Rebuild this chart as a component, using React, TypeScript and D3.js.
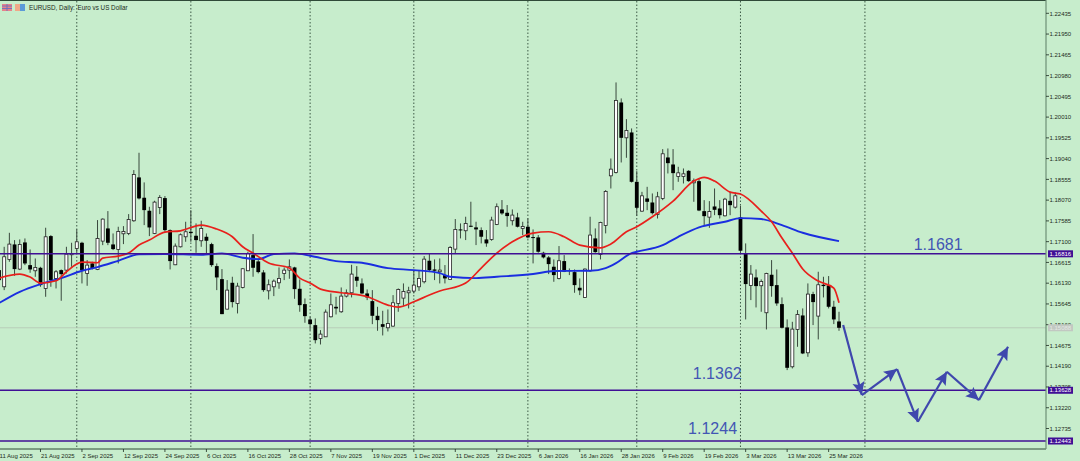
import * as d3 from "d3";

const WIDTH = 1080;
const HEIGHT = 461;
const RIGHT = 1046;
const BOTTOM = 449;

// EURUSD daily bars, one value per bar
const opens = [
  1.16435, 1.16046, 1.16684, 1.17035, 1.16459, 1.17082, 1.16552, 1.1642, 1.1649, 1.16007,
  1.1723, 1.1624, 1.16435, 1.16435, 1.16794, 1.16942, 1.17074, 1.16357, 1.16591, 1.16451,
  1.17113, 1.17409, 1.17035, 1.16918, 1.17284, 1.17292, 1.17588, 1.18601, 1.18126, 1.17822,
  1.17292, 1.179, 1.18118, 1.1737, 1.1656, 1.1698, 1.17214, 1.17331, 1.17238, 1.17121,
  1.17214, 1.17043, 1.16529, 1.16225, 1.15524, 1.16139, 1.15656, 1.1603, 1.1642, 1.16786,
  1.16638, 1.16381, 1.15952, 1.16046, 1.16139, 1.16358, 1.16435, 1.16498, 1.15999, 1.15641,
  1.15282, 1.1515, 1.14838, 1.14877, 1.15345, 1.15578, 1.15462, 1.15828, 1.15906, 1.1628,
  1.16124, 1.1589, 1.15711, 1.15368, 1.15173, 1.15088, 1.15127, 1.15656, 1.15781, 1.15906,
  1.15945, 1.16046, 1.16163, 1.16654, 1.16451, 1.16397, 1.16319, 1.16218, 1.16926, 1.17386,
  1.17355, 1.17472, 1.17433, 1.1737, 1.17152, 1.17152, 1.17503, 1.17853, 1.17775, 1.17589,
  1.17667, 1.17409, 1.17448, 1.17207, 1.17199, 1.16841, 1.16732, 1.16514, 1.16241, 1.16646,
  1.16436, 1.16389, 1.16023, 1.15797, 1.1642, 1.17176, 1.16802, 1.1748, 1.18638, 1.18716,
  1.20352, 1.19526, 1.19651, 1.18498, 1.17813, 1.18109, 1.18015, 1.17735, 1.18109, 1.19067,
  1.18903, 1.18623, 1.18623, 1.18755, 1.18475, 1.18514, 1.17813, 1.17673, 1.17922, 1.17875,
  1.17704, 1.18054, 1.17906, 1.17667, 1.16825, 1.16078, 1.16264, 1.1607, 1.15439, 1.16327,
  1.16085, 1.15641, 1.15096, 1.14177, 1.15049, 1.15376, 1.14504, 1.15875, 1.15361, 1.16093,
  1.16078, 1.15579, 1.15236,
];
const closes = [
  1.16201, 1.16747, 1.17043, 1.16459, 1.17035, 1.16591, 1.16451, 1.16497, 1.16085, 1.17214,
  1.16201, 1.16396, 1.16342, 1.16809, 1.16825, 1.17097, 1.16435, 1.16552, 1.16474, 1.17175,
  1.17627, 1.17074, 1.16926, 1.17339, 1.17339, 1.17619, 1.18671, 1.1811, 1.17837, 1.17432,
  1.18024, 1.18133, 1.1737, 1.16646, 1.16996, 1.17261, 1.17331, 1.173, 1.17136, 1.17409,
  1.17121, 1.16552, 1.16264, 1.15407, 1.15968, 1.15688, 1.16061, 1.16467, 1.16825, 1.1649,
  1.16389, 1.15968, 1.16093, 1.16178, 1.16241, 1.16435, 1.16513, 1.15991, 1.15617, 1.1536,
  1.15173, 1.14799, 1.1494, 1.15454, 1.15625, 1.1554, 1.15828, 1.15906, 1.16342, 1.16186,
  1.1589, 1.15797, 1.15368, 1.15267, 1.1511, 1.15189, 1.15672, 1.15984, 1.15937, 1.15952,
  1.16085, 1.16241, 1.16692, 1.16435, 1.1642, 1.16436, 1.16241, 1.16965, 1.17386, 1.17363,
  1.17526, 1.17448, 1.17386, 1.17215, 1.17059, 1.17604, 1.17916, 1.1776, 1.17698, 1.17721,
  1.17448, 1.17456, 1.17199, 1.17191, 1.16864, 1.16732, 1.16576, 1.16319, 1.16654, 1.16397,
  1.1642, 1.16085, 1.15961, 1.16459, 1.17254, 1.16856, 1.1755, 1.18274, 1.18794, 1.20399,
  1.19526, 1.19698, 1.18498, 1.17891, 1.18171, 1.18031, 1.17766, 1.18148, 1.19153, 1.18934,
  1.18701, 1.18708, 1.18685, 1.18514, 1.18522, 1.17828, 1.17696, 1.17805, 1.17844, 1.17719,
  1.18093, 1.17953, 1.18171, 1.16888, 1.16109, 1.16342, 1.16062, 1.16171, 1.16358, 1.16062,
  1.15657, 1.15088, 1.14153, 1.15057, 1.154, 1.14488, 1.15875, 1.15688, 1.16093, 1.16062,
  1.15579, 1.15283, 1.15088,
];
const highs = [
  1.16513, 1.1698, 1.17307, 1.17136, 1.17152, 1.17175, 1.16918, 1.16707, 1.16513, 1.17425,
  1.17253, 1.16435, 1.16451, 1.1698, 1.17074, 1.17386, 1.17097, 1.16669, 1.1663, 1.17604,
  1.17643, 1.17814, 1.17292, 1.17448, 1.17463, 1.17744, 1.18772, 1.19177, 1.18484, 1.17915,
  1.18056, 1.18188, 1.18165, 1.17386, 1.17058, 1.17292, 1.17565, 1.17837, 1.17526, 1.17588,
  1.17292, 1.17074, 1.16591, 1.16459, 1.16202, 1.1628, 1.16139, 1.16474, 1.16864, 1.17277,
  1.16708, 1.16435, 1.16217, 1.16217, 1.16498, 1.16498, 1.16685, 1.16513, 1.16217, 1.15773,
  1.15345, 1.15306, 1.15033, 1.15516, 1.1589, 1.15812, 1.1603, 1.15984, 1.1656, 1.16529,
  1.16241, 1.15984, 1.15968, 1.15578, 1.15485, 1.15516, 1.15851, 1.16007, 1.16124, 1.16046,
  1.16435, 1.16435, 1.16763, 1.16825, 1.16685, 1.16708, 1.16553, 1.16997, 1.17628, 1.17526,
  1.17682, 1.18033, 1.17565, 1.17433, 1.1737, 1.17682, 1.17994, 1.18072, 1.17955, 1.17853,
  1.17775, 1.17565, 1.17643, 1.17386, 1.17254, 1.16864, 1.16763, 1.16685, 1.16997, 1.16786,
  1.16475, 1.16451, 1.16241, 1.16475, 1.17682, 1.17409, 1.17565, 1.18305, 1.19043, 1.2082,
  1.20446, 1.19963, 1.19745, 1.18747, 1.18264, 1.18381, 1.18226, 1.18264, 1.19262, 1.19277,
  1.19262, 1.18849, 1.1881, 1.1877, 1.18576, 1.18576, 1.1807, 1.18047, 1.18342, 1.1807,
  1.18124, 1.18264, 1.18249, 1.17937, 1.17059, 1.16553, 1.16451, 1.16218, 1.16374, 1.16669,
  1.16451, 1.15797, 1.15283, 1.15228, 1.15501, 1.1554, 1.16124, 1.15929, 1.16397, 1.1628,
  1.16296, 1.15719, 1.15462,
];
const lows = [
  1.16085, 1.15968, 1.1663, 1.16303, 1.16435, 1.16552, 1.16373, 1.16279, 1.16046, 1.15812,
  1.16046, 1.16007, 1.15719, 1.16357, 1.16513, 1.16809, 1.16124, 1.16069, 1.16451, 1.16435,
  1.17019, 1.17019, 1.16903, 1.16591, 1.17043, 1.17253, 1.17565, 1.18087, 1.17487, 1.1723,
  1.17277, 1.17744, 1.17331, 1.16451, 1.16552, 1.16965, 1.17097, 1.17097, 1.1684, 1.1698,
  1.16825, 1.16513, 1.15968, 1.15407, 1.15516, 1.15563, 1.15423, 1.16007, 1.16412, 1.1628,
  1.16358, 1.15929, 1.1575, 1.15828, 1.15999, 1.16202, 1.16233, 1.15765, 1.15462, 1.15205,
  1.15033, 1.14722, 1.14698, 1.14877, 1.15329, 1.15399, 1.15438, 1.15797, 1.15797, 1.16046,
  1.15875, 1.15734, 1.15173, 1.15018, 1.14909, 1.15002, 1.15111, 1.15462, 1.15594, 1.1554,
  1.1589, 1.15952, 1.16124, 1.16389, 1.16202, 1.16124, 1.16124, 1.16218, 1.16825, 1.17176,
  1.17137, 1.1744, 1.1702, 1.17059, 1.16981, 1.17121, 1.17487, 1.17729, 1.17448, 1.1748,
  1.17433, 1.17254, 1.17176, 1.16592, 1.16841, 1.16708, 1.16342, 1.16163, 1.16218, 1.16389,
  1.16319, 1.15906, 1.15852, 1.15789, 1.16397, 1.16841, 1.16685, 1.17293, 1.18342, 1.18693,
  1.1895, 1.19059, 1.18482, 1.17704, 1.17797, 1.17836, 1.17735, 1.17641, 1.1807, 1.18693,
  1.18303, 1.18498, 1.18459, 1.18498, 1.18031, 1.17813, 1.17486, 1.17423, 1.17719, 1.17641,
  1.17688, 1.17719, 1.17875, 1.16825, 1.15283, 1.15735, 1.15563, 1.15462, 1.15049, 1.15813,
  1.15602, 1.15072, 1.14099, 1.14138, 1.14644, 1.14473, 1.1441, 1.15151, 1.14816, 1.15797,
  1.1554, 1.15174, 1.15018,
];

// moving averages, read at the bars where the curve bends
const redBars = [
  0, 4, 6, 8, 11, 13, 16, 19, 20, 23, 25, 27, 29, 32, 35, 39, 42, 45, 47, 49, 52, 56, 58, 60, 62, 66, 71, 75, 77, 80, 83,
  85, 90, 93, 96, 99, 103, 106, 109, 112, 116, 118, 121, 123, 126, 130, 134, 136, 138, 141, 143, 147, 149, 151, 153, 155,
  158, 161, 162,
];
const redValues = [
  1.16249, 1.16343, 1.16273, 1.16133, 1.16186, 1.16397, 1.16623, 1.16607, 1.16717, 1.16763, 1.16833, 1.1702, 1.17137,
  1.17324, 1.17354, 1.17487, 1.17394, 1.17214, 1.16981, 1.16833, 1.166, 1.16483, 1.16249, 1.16133, 1.15992, 1.15906,
  1.15813, 1.15619, 1.15572, 1.15696, 1.15852, 1.15946, 1.16133, 1.16483, 1.16833, 1.17097, 1.173, 1.17331, 1.17214,
  1.1702, 1.16957, 1.17044, 1.17331, 1.17448, 1.17681, 1.18048, 1.18515, 1.18602, 1.18515, 1.18258, 1.18212, 1.17814,
  1.17565, 1.17184, 1.16833, 1.1646, 1.16179, 1.16016, 1.15672,
];
const blueBars = [
  0, 4, 8, 12, 16, 19, 23, 27, 32, 39, 43, 47, 50, 53, 57, 60, 65, 70, 75, 80, 85, 87, 92, 96, 103, 107, 114, 117, 119,
  122, 123, 128, 131, 135, 140, 143, 147, 151, 155, 162,
];
const blueValues = [
  1.15665, 1.15929, 1.16109, 1.16249, 1.1642, 1.16506, 1.16653, 1.16803, 1.1681, 1.16794, 1.16826, 1.16724, 1.16693,
  1.1681, 1.16826, 1.1677, 1.16646, 1.16607, 1.16483, 1.16436, 1.16366, 1.1628, 1.16249, 1.1628, 1.16343, 1.16413,
  1.1642, 1.16483, 1.166, 1.16833, 1.16864, 1.1702, 1.17214, 1.17434, 1.17565, 1.17651, 1.17628, 1.17487, 1.17308,
  1.17114,
];

// hand drawn forecast zigzag
const forecastBars = [162.8, 166.4, 173.2, 177.2, 182.8, 189, 194.6];
const forecastValues = [1.15151, 1.13516, 1.14124, 1.12892, 1.14061, 1.13399, 1.14645];

const priceTicks = [
  "1.22435", "1.21950", "1.21465", "1.20980", "1.20495", "1.20010", "1.19525", "1.19040", "1.18555", "1.18070", "1.17585",
  "1.17100", "1.16615", "1.16130", "1.15645", "1.15160", "1.14675", "1.14190", "1.13705", "1.13220", "1.12735",
];
const dateLabels = [
  "11 Aug 2025", "21 Aug 2025", "2 Sep 2025", "12 Sep 2025", "24 Sep 2025", "6 Oct 2025", "16 Oct 2025", "28 Oct 2025",
  "7 Nov 2025", "19 Nov 2025", "1 Dec 2025", "11 Dec 2025", "23 Dec 2025", "6 Jan 2026", "16 Jan 2026", "28 Jan 2026",
  "9 Feb 2026", "19 Feb 2026", "3 Mar 2026", "13 Mar 2026", "25 Mar 2026",
];
const dateEvery = 8;
const monthStartBars = [15, 37, 60, 80, 102, 123, 143, 167];
const levelPrices = ["1.16816", "1.13628", "1.12443"];
const bidPrice = "1.15088";
const levelNotes = ["1.1681", "1.1362", "1.1244"];
const noteBars = [176.4, 133.8, 132.9];
const noteValues = [1.16915, 1.1389, 1.12607];

const FONT = "'Liberation Sans', sans-serif";
const INK = "#1c2b20";
const ARROW = "#3f47ad";
const LEVEL = "#400f95";
const NOTE = "#4256b4";

export default function App() {
  const x = d3.scaleLinear().domain([0, 162]).range([-1, 839]);
  const y = d3.scaleLinear().domain([1.22435, 1.12735]).range([13.3, 428.5]);

  const maLine = d3
    .line<[number, number]>()
    .x((d) => x(d[0]))
    .y((d) => y(d[1]))
    .curve(d3.curveMonotoneX);
  const red = maLine(redBars.map((b, i) => [b, redValues[i]]));
  const blue = maLine(blueBars.map((b, i) => [b, blueValues[i]]));

  return (
    <svg
      width={WIDTH}
      height={HEIGHT}
      style={{ position: "fixed", left: 0, top: 0, display: "block", background: "#c7edcc" }}
      fontFamily={FONT}
    >
      <defs>
        <marker id="head" markerUnits="userSpaceOnUse" markerWidth="15" markerHeight="15" refX="13" refY="7" orient="auto">
          <path d="M0,0.8 L13,7 L0,13.2 L2.5,7 Z" fill={ARROW} />
        </marker>
      </defs>

      {/* month separators */}
      {monthStartBars.map((b) => (
        <line key={b} x1={x(b)} x2={x(b)} y1={1} y2={BOTTOM} stroke="#2f4a38" strokeDasharray="1.5 2" strokeWidth={0.9} />
      ))}

      {/* bid line */}
      <line x1={0} x2={RIGHT} y1={y(+bidPrice)} y2={y(+bidPrice)} stroke="#b9cdb9" strokeWidth={1} />

      {/* candles */}
      {opens.map((o, i) => {
        const c = closes[i];
        const up = c > o;
        const top = y(Math.max(o, c));
        const h = Math.max(y(Math.min(o, c)) - top, 1);
        return (
          <g key={i}>
            <line x1={x(i)} x2={x(i)} y1={y(highs[i])} y2={y(lows[i])} stroke="#39483d" strokeWidth={1} />
            {up ? (
              <rect x={x(i) - 1.5} y={top} width={3} height={h} fill="#fff" stroke="#222" strokeWidth={0.8} />
            ) : (
              <rect x={x(i) - 1.9} y={top} width={3.8} height={h} fill="#000" />
            )}
          </g>
        );
      })}

      {/* moving averages */}
      <path d={blue ?? ""} fill="none" stroke="#1a2ee0" strokeWidth={1.9} />
      <path d={red ?? ""} fill="none" stroke="#e8201c" strokeWidth={1.7} />

      {/* levels */}
      {levelPrices.map((p) => (
        <line key={p} x1={0} x2={RIGHT} y1={y(+p)} y2={y(+p)} stroke={LEVEL} strokeWidth={1.6} />
      ))}
      {levelNotes.map((t, i) => (
        <text key={t} x={x(noteBars[i])} y={y(noteValues[i])} fontSize={16} fill={NOTE}>
          {t}
        </text>
      ))}

      {/* forecast arrows */}
      {forecastBars.slice(1).map((b, i) => (
        <line
          key={b}
          x1={x(forecastBars[i])}
          y1={y(forecastValues[i])}
          x2={x(b)}
          y2={y(forecastValues[i + 1])}
          stroke={ARROW}
          strokeWidth={2.2}
          markerEnd="url(#head)"
        />
      ))}

      {/* frame */}
      <line x1={0} x2={RIGHT} y1={0.5} y2={0.5} stroke="#2f4a38" strokeWidth={1} />
      <line x1={0} x2={RIGHT} y1={BOTTOM} y2={BOTTOM} stroke="#2f4a38" strokeWidth={1} />
      <line x1={RIGHT} x2={RIGHT} y1={0} y2={BOTTOM} stroke="#6d8f76" strokeWidth={1.2} />

      {/* price axis */}
      {priceTicks.map((t) => (
        <g key={t}>
          <line x1={RIGHT} x2={RIGHT + 3} y1={y(+t)} y2={y(+t)} stroke={INK} strokeWidth={0.8} />
          <text x={RIGHT + 3.5} y={y(+t) + 2.2} fontSize={6} fill={INK}>
            {t}
          </text>
        </g>
      ))}
      {levelPrices.map((p) => (
        <g key={p}>
          <rect x={RIGHT + 2} y={y(+p) - 3.5} width={25} height={7} fill={LEVEL} />
          <text x={RIGHT + 3.5} y={y(+p) + 2.2} fontSize={6} fill="#fff">
            {p}
          </text>
        </g>
      ))}
      <rect x={RIGHT + 2} y={y(+bidPrice) - 3.5} width={25} height={7} fill="#c2c8c2" />
      <text x={RIGHT + 3.5} y={y(+bidPrice) + 2.2} fontSize={6} fill="#e4e8e4">
        {bidPrice}
      </text>

      {/* date axis */}
      {dateLabels.map((t, i) => (
        <g key={t}>
          <line x1={x(i * dateEvery)} x2={x(i * dateEvery)} y1={BOTTOM} y2={BOTTOM + 3} stroke={INK} strokeWidth={0.8} />
          <text x={x(i * dateEvery) + 0.5} y={458} fontSize={6} fill={INK}>
            {t}
          </text>
        </g>
      ))}

      {/* header */}
      <rect x={2} y={4} width={10} height={7} fill="#e8828a" />
      <path d="M2,6 H12 M2,8.5 H12 M7,4 V11" stroke="#5a70c8" strokeWidth={0.8} />
      <rect x={15} y={4} width={5} height={7} fill="#f0a888" />
      <rect x={20} y={4} width={5} height={7} fill="#5c9ad8" />
      <text x={29} y={10} fontSize={6.3} fill={INK}>
        EURUSD, Daily:
      </text>
      <text x={77.5} y={10} fontSize={6.3} fill={INK}>
        Euro vs US Dollar
      </text>
    </svg>
  );
}
